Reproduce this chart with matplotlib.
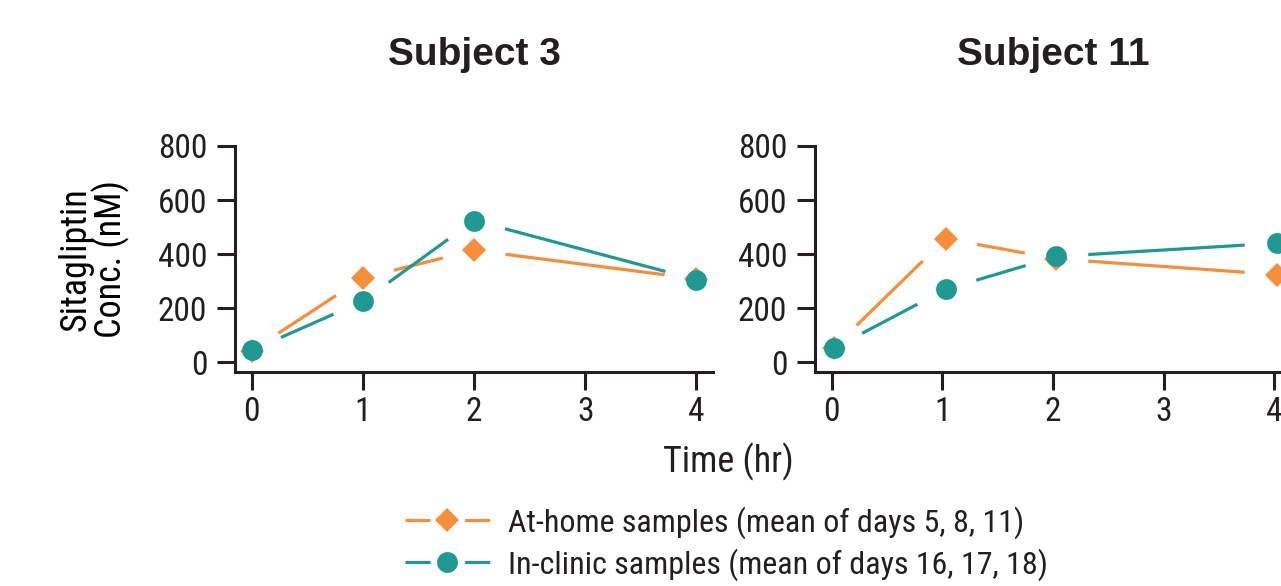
import matplotlib
matplotlib.use("Agg")
import matplotlib.pyplot as plt
from matplotlib.lines import Line2D
import numpy as np

# data (concentration in nM, time in hr)
time_s3 = [0, 1, 2, 4]
home_s3 = [42, 311, 414, 308]
clinic_s3 = [43, 225, 524, 305]

time_s11 = [0.02, 1.03, 2.03, 4.02]
home_s11 = [53, 457, 382, 324]
clinic_s11 = [51, 269, 391, 440]

titles = ["Subject 3", "Subject 11"]
home_label = "At-home samples (mean of days 5, 8, 11)"
clinic_label = "In-clinic samples (mean of days 16, 17, 18)"

ORANGE = "#f68e3a"
TEAL = "#1f9a92"
INK = "#231f20"
NARROW = ["Roboto Condensed", "DejaVu Sans"]
BOLD = ["Liberation Sans", "DejaVu Sans"]

plt.rcParams["font.family"] = NARROW
plt.rcParams["lines.scale_dashes"] = False
plt.rcParams["text.color"] = INK

W, H = 1281, 586
fig = plt.figure(figsize=(W / 100, H / 100), dpi=100)


def px_axes(left, top, right, bottom):
    return fig.add_axes([left / W, 1 - bottom / H, (right - left) / W, (bottom - top) / H])


def gapped_line(ax, xs, ys, color, gap=32):
    # line segments stop short of each marker, like the original figure
    tr = ax.transData
    pts = tr.transform(np.column_stack([xs, ys]))
    for p0, p1 in zip(pts[:-1], pts[1:]):
        d = p1 - p0
        n = np.hypot(*d)
        if n <= 2 * gap:
            continue
        u = d / n
        seg = tr.inverted().transform(np.array([p0 + u * gap, p1 - u * gap]))
        ax.plot(seg[:, 0], seg[:, 1], color=color, lw=2.3, solid_capstyle="butt", zorder=2)


def style_axes(ax):
    ax.set_xlim(-0.15, 4.15)
    ax.set_ylim(-37, 800)
    ax.set_xticks([0, 1, 2, 3, 4])
    ax.set_yticks([0, 200, 400, 600, 800])
    for s in ["top", "right"]:
        ax.spines[s].set_visible(False)
    for s in ["left", "bottom"]:
        ax.spines[s].set_linewidth(2.2)
        ax.spines[s].set_color(INK)
    ax.tick_params(length=13, width=2.2, color=INK, labelsize=24, labelcolor=INK)
    ax.tick_params(axis="y", pad=7)
    ax.tick_params(axis="x", pad=4)
    ax.patch.set_alpha(0)


ax1 = px_axes(235, 146, 713, 372)
ax2 = px_axes(815, 146, 1291, 372)

panels = [(ax1, time_s3, home_s3, clinic_s3), (ax2, time_s11, home_s11, clinic_s11)]
for (ax, t, home, clinic), title in zip(panels, titles):
    style_axes(ax)
    gapped_line(ax, t, home, ORANGE)
    gapped_line(ax, t, clinic, TEAL)
    ax.plot(t, home, ls="none", marker="D", ms=12, color=ORANGE, mew=0, zorder=3, clip_on=False)
    ax.plot(t, clinic, ls="none", marker="o", ms=15, color=TEAL, mew=0, zorder=4, clip_on=False)
    ax.set_title(title, family=BOLD, fontweight="bold", fontsize=28, pad=58, color=INK)

ax1.set_ylabel("Sitagliptin\nConc. (nM)", fontsize=26, linespacing=0.95, labelpad=20)

fig.text(728 / W, 1 - 462 / H, "Time (hr)", ha="center", va="center", fontsize=26)

dash = (0, (18, 25, 18, 200))
handles = [
    Line2D([], [], color=ORANGE, lw=2.3, ls=dash, marker="D", ms=12, mew=0),
    Line2D([], [], color=TEAL, lw=2.3, ls=dash, marker="o", ms=15, mew=0),
]
fig.legend(handles, [home_label, clinic_label], loc="upper left",
           bbox_to_anchor=(405 / W, 1 - 506 / H), frameon=False, fontsize=23,
           handlelength=2.65, handletextpad=0.58, labelspacing=0.3,
           borderpad=0, borderaxespad=0, numpoints=1)

fig.savefig("out.png", dpi=100)
